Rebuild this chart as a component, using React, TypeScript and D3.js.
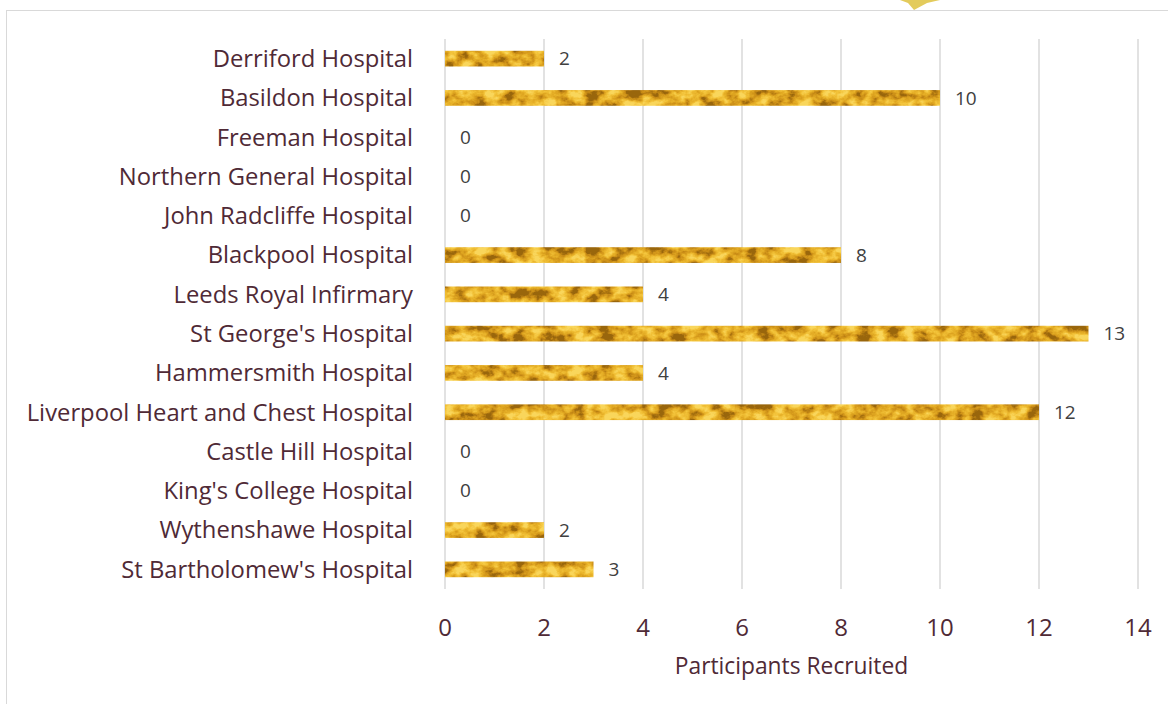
import React, { useEffect, useRef } from 'react';
import * as d3 from 'd3';

const hospitals = [
  'Derriford Hospital',
  'Basildon Hospital',
  'Freeman Hospital',
  'Northern General Hospital',
  'John Radcliffe Hospital',
  'Blackpool Hospital',
  'Leeds Royal Infirmary',
  "St George's Hospital",
  'Hammersmith Hospital',
  'Liverpool Heart and Chest Hospital',
  'Castle Hill Hospital',
  "King's College Hospital",
  'Wythenshawe Hospital',
  "St Bartholomew's Hospital",
];
const recruited = [2, 10, 0, 0, 0, 8, 4, 13, 4, 12, 0, 0, 2, 3];
const xTicks = [0, 2, 4, 6, 8, 10, 12, 14];
const axisTitle = 'Participants Recruited';

const App = () => {
  const svgRef = useRef<SVGSVGElement | null>(null);
  const width = 1168;
  const height = 704;
  const margin = { top: 39, right: 30, bottom: 115, left: 445 };
  const textColor = '#4f2a36';
  const font = '"Open Sans", sans-serif';

  useEffect(() => {
    const svg = d3.select(svgRef.current);
    svg.selectAll('*').remove();

    const defs = svg.append('defs');
    // gold leaf texture
    const filter = defs.append('filter')
      .attr('id', 'goldTex')
      .attr('x', 0).attr('y', 0).attr('width', 1).attr('height', 1)
      .attr('color-interpolation-filters', 'sRGB');
    filter.append('feTurbulence')
      .attr('type', 'fractalNoise')
      .attr('baseFrequency', '0.07 0.09')
      .attr('numOctaves', 4)
      .attr('seed', 11)
      .attr('result', 'noise');
    filter.append('feColorMatrix')
      .attr('in', 'noise')
      .attr('type', 'matrix')
      .attr('values', '2.2 0 0 0 -0.6  2.2 0 0 0 -0.6  2.2 0 0 0 -0.6  0 0 0 0 1')
      .attr('result', 'gray');
    const ct = filter.append('feComponentTransfer').attr('in', 'gray').attr('result', 'gold');
    ct.append('feFuncR').attr('type', 'table').attr('tableValues', '0.6 0.8 0.89 0.95 0.98');
    ct.append('feFuncG').attr('type', 'table').attr('tableValues', '0.4 0.56 0.67 0.76 0.84');
    ct.append('feFuncB').attr('type', 'table').attr('tableValues', '0.05 0.09 0.14 0.22 0.36');
    filter.append('feComposite')
      .attr('in', 'gold').attr('in2', 'SourceGraphic').attr('operator', 'in');

    const innerH = height - margin.top - margin.bottom;

    const x = d3.scaleLinear().domain([0, 14]).range([margin.left, margin.left + 49.5 * 14]);
    const y = d3.scaleBand<string>()
      .domain(hospitals)
      .range([margin.top, margin.top + innerH])
      .paddingInner(0.6)
      .paddingOuter(0.3);

    // frame
    svg.append('rect')
      .attr('x', 6.5).attr('y', 10.5)
      .attr('width', width).attr('height', height)
      .attr('fill', 'white')
      .attr('stroke', '#d9d9d9');

    // little gold fragment poking in at the top
    svg.append('path')
      .attr('d', 'M900,0 L940,0 L927,3 L914,10 L908,3 Z')
      .attr('fill', '#e3cb5c');

    // gridlines
    svg.append('g')
      .selectAll('line')
      .data(xTicks)
      .join('line')
      .attr('x1', (d) => x(d)).attr('x2', (d) => x(d))
      .attr('y1', margin.top).attr('y2', margin.top + innerH)
      .attr('stroke', '#d9d9d9')
      .attr('stroke-width', 1.5);

    // bars
    svg.append('g')
      .selectAll('rect')
      .data(hospitals)
      .join('rect')
      .attr('x', x(0))
      .attr('y', (d) => y(d)!)
      .attr('width', (d, i) => x(recruited[i]) - x(0))
      .attr('height', y.bandwidth())
      .attr('fill', '#d9a62a')
      .attr('filter', 'url(#goldTex)');

    // value labels
    svg.append('g')
      .selectAll('text')
      .data(hospitals)
      .join('text')
      .attr('x', (d, i) => x(recruited[i]) + 15)
      .attr('y', (d) => y(d)! + y.bandwidth() / 2)
      .attr('dy', '0.35em')
      .attr('fill', '#404040')
      .style('font-family', font)
      .style('font-size', '19px')
      .text((d, i) => recruited[i]);

    // category labels
    svg.append('g')
      .selectAll('text')
      .data(hospitals)
      .join('text')
      .attr('x', 413)
      .attr('y', (d) => y(d)! + y.bandwidth() / 2)
      .attr('dy', '0.35em')
      .attr('text-anchor', 'end')
      .attr('fill', textColor)
      .style('font-family', font)
      .style('font-size', '23.8px')
      .text((d) => d);

    // x tick labels
    svg.append('g')
      .selectAll('text')
      .data(xTicks)
      .join('text')
      .attr('x', (d) => x(d))
      .attr('y', 628)
      .attr('dy', '0.35em')
      .attr('text-anchor', 'middle')
      .attr('fill', textColor)
      .style('font-family', font)
      .style('font-size', '24px')
      .text((d) => d);

    svg.append('text')
      .attr('x', (x(0) + x(14)) / 2)
      .attr('y', 666)
      .attr('dy', '0.35em')
      .attr('text-anchor', 'middle')
      .attr('fill', textColor)
      .style('font-family', font)
      .style('font-size', '22.8px')
      .text(axisTitle);
  }, []);

  return (
    <svg
      ref={svgRef}
      width={width}
      height={height}
      style={{ position: 'absolute', left: 0, top: 0, background: 'white' }}
    />
  );
};

export default App;
